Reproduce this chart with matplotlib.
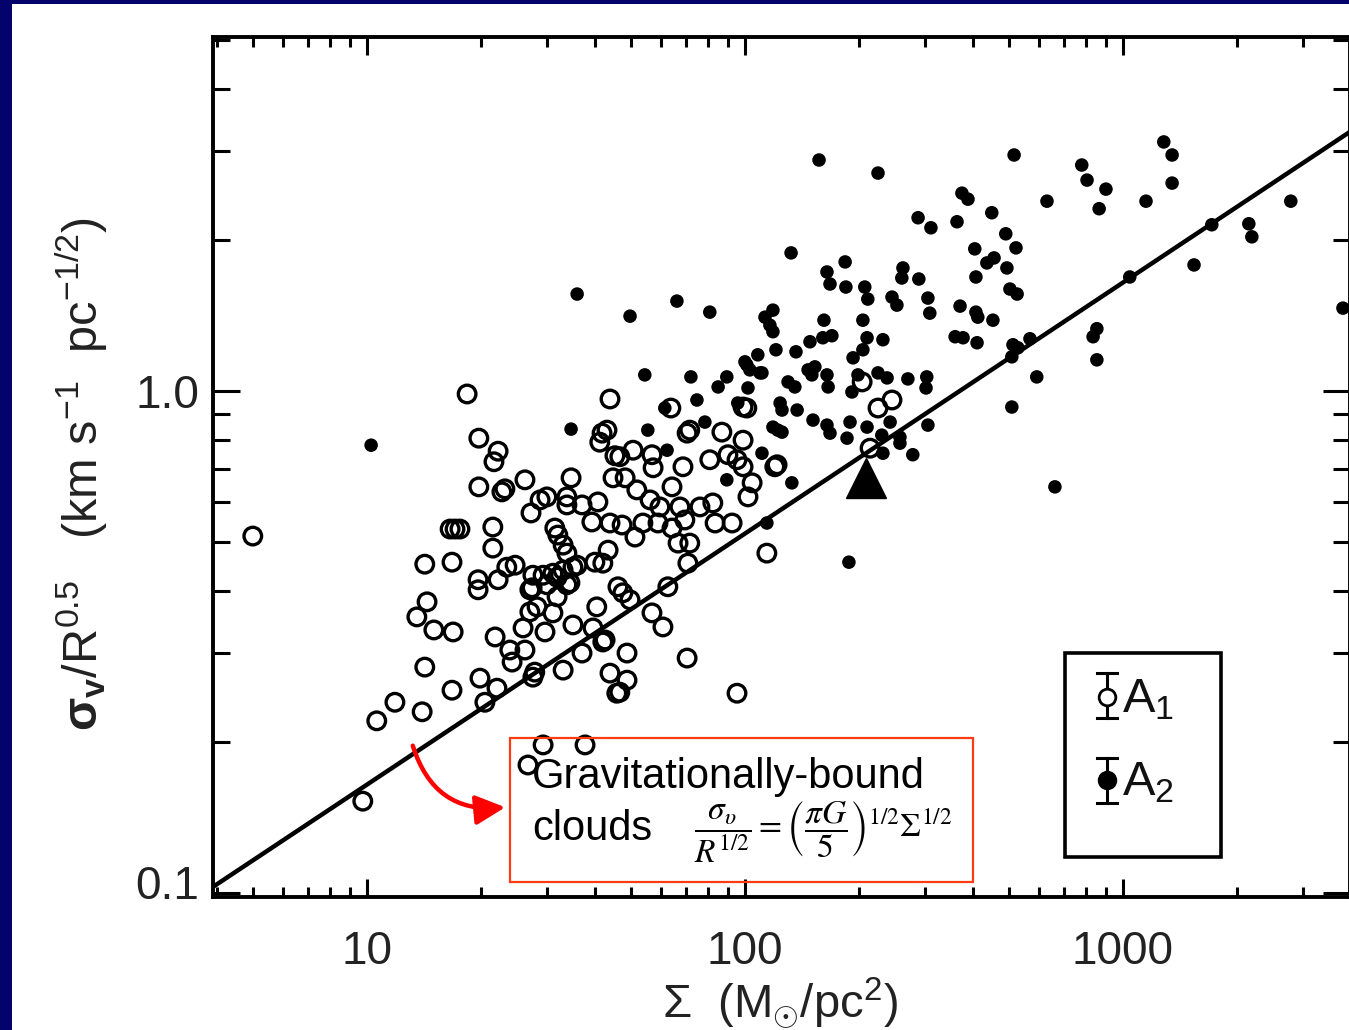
import numpy as np
import matplotlib.pyplot as plt
import matplotlib.ticker as mticker
import matplotlib.transforms as mtransforms
from matplotlib.patches import Rectangle, FancyArrowPatch

plt.rcParams['font.family'] = ['Liberation Sans', 'DejaVu Sans']
plt.rcParams['mathtext.fontset'] = 'custom'
plt.rcParams['mathtext.rm'] = 'Liberation Sans'
plt.rcParams['mathtext.it'] = 'Liberation Sans:italic'
plt.rcParams['mathtext.bf'] = 'Liberation Sans:bold'

# --- data (log10 values) ---
# A1 clouds (open circles): log10 Sigma [Msun/pc^2], log10 sigma_v/R^0.5
log_surf_a1 = [0.698, 0.989, 1.026, 1.074, 1.146, 1.153, 1.153, 1.225, 1.132, 1.159,
               1.177, 1.228, 1.225, 1.265, 1.296, 1.347, 1.336, 1.296, 1.357, 1.365,
               1.418, 1.220, 1.233, 1.246, 1.333, 1.333, 1.294, 1.294, 1.347, 1.370,
               1.392, 1.339, 1.299, 1.344, 1.312, 1.378, 1.384, 1.418, 1.413, 1.431,
               1.450, 1.471, 1.492, 1.503, 1.437, 1.439, 1.466, 1.492, 1.519, 1.537,
               1.545, 1.608, 1.598, 1.624, 1.569, 1.519, 1.439, 1.444, 1.643, 1.661,
               1.466, 1.577, 1.426, 1.434, 1.458, 1.476, 1.529, 1.529, 1.569, 1.595,
               1.611, 1.540, 1.497, 1.505, 1.519, 1.529, 1.545, 1.431, 1.476, 1.503,
               1.529, 1.556, 1.603, 1.624, 1.643, 1.622, 1.616, 1.635, 1.656, 1.651,
               1.643, 1.638, 1.804, 1.847, 1.854, 1.939, 1.995, 1.995, 1.704, 1.669,
               1.754, 1.757, 1.836, 1.907, 1.955, 1.979, 1.995, 2.019, 2.008, 2.079,
               1.683, 1.714, 1.807, 1.749, 1.775, 1.828, 1.881, 1.915, 1.675, 1.730,
               1.770, 1.807, 1.841, 1.921, 1.966, 1.709, 1.823, 1.854, 2.058, 1.849,
               1.796, 1.754, 1.783, 1.630, 1.688, 1.847, 1.688, 1.669, 1.979, 1.664,
               1.677, 1.696, 2.389, 2.352, 2.005, 2.331, 2.085, 2.310]
log_sv_a1 = [-0.289, -0.817, -0.657, -0.620, -0.639, -0.550, -0.345, -0.341, -0.450, -0.420,
             -0.476, -0.480, -0.596, -0.006, -0.094, -0.120, -0.141, -0.191, -0.201, -0.195,
             -0.177, -0.275, -0.275, -0.275, -0.271, -0.313, -0.376, -0.396, -0.376, -0.351,
             -0.347, -0.490, -0.572, -0.592, -0.620, -0.516, -0.540, -0.516, -0.472, -0.440,
             -0.430, -0.480, -0.442, -0.410, -0.392, -0.367, -0.367, -0.363, -0.357, -0.382,
             -0.466, -0.430, -0.472, -0.500, -0.522, -0.556, -0.570, -0.560, -0.562, -0.602,
             -0.705, -0.705, -0.745, -0.243, -0.217, -0.211, -0.211, -0.227, -0.227, -0.261,
             -0.221, -0.173, -0.273, -0.287, -0.307, -0.323, -0.351, -0.396, -0.386, -0.371,
             -0.386, -0.347, -0.341, -0.343, -0.016, -0.084, -0.102, -0.078, -0.129, -0.173,
             -0.263, -0.317, -0.034, -0.084, -0.078, -0.082, -0.032, -0.098, -0.118, -0.131,
             -0.127, -0.153, -0.151, -0.137, -0.127, -0.137, -0.151, -0.183, -0.211, -0.151,
             -0.173, -0.197, -0.191, -0.217, -0.231, -0.231, -0.231, -0.223, -0.267, -0.263,
             -0.263, -0.273, -0.257, -0.263, -0.263, -0.291, -0.303, -0.303, -0.323, -0.343,
             -0.390, -0.442, -0.470, -0.496, -0.522, -0.532, -0.576, -0.600, -0.602, -0.390,
             -0.402, -0.416, -0.018, -0.034, -0.034, -0.114, -0.147, 0.018]

# A2 clouds (filled circles)
log_surf_a2 = [1.011, 1.540, 1.556, 1.696, 1.820, 1.907, 1.735, 1.857, 1.952, 1.929,
               2.008, 2.005, 2.040, 2.114, 2.132, 1.873, 2.093, 2.138, 1.743, 1.894,
               2.074, 2.098, 1.794, 2.045, 1.952, 2.124, 2.058, 2.275, 2.196, 2.352,
               2.574, 2.590, 2.653, 2.458, 2.492, 2.561, 2.608, 2.640, 2.659, 2.611,
               2.122, 2.265, 2.217, 2.225, 2.267, 2.317, 2.325, 2.418, 2.415, 2.460,
               2.389, 2.402, 2.484, 2.489, 2.569, 2.611, 2.616, 2.656, 2.074, 2.053,
               2.066, 2.074, 2.209, 2.312, 2.556, 2.577, 2.614, 2.206, 2.230, 2.172,
               2.323, 2.365, 2.312, 2.286, 2.082, 2.135, 2.034, 2.000, 2.013, 2.045,
               2.167, 2.185, 2.177, 2.217, 2.220, 2.299, 2.283, 2.352, 2.376, 2.431,
               2.481, 2.479, 2.098, 2.180, 2.217, 2.225, 2.087, 2.278, 2.270, 2.323,
               2.384, 2.362, 2.410, 2.410, 2.484, 2.444, 2.365, 2.712, 2.891, 2.905,
               2.955, 2.799, 2.937, 3.061, 3.108, 3.130, 3.130, 2.690, 2.717, 2.693,
               2.701, 2.720, 3.188, 3.018, 2.709, 2.754, 2.706, 2.722, 2.931, 2.921,
               2.931, 2.772, 2.706, 2.820, 3.444, 3.333, 3.341, 3.235, 3.582, 1.981,
               1.788]
log_sv_a2 = [-0.108, -0.076, 0.193, 0.149, 0.179, 0.157, 0.032, 0.028, 0.028, 0.008,
             0.006, 0.052, 0.036, 0.018, 0.008, -0.018, -0.024, -0.038, -0.078, -0.062,
             -0.072, -0.082, -0.118, -0.124, -0.177, -0.183, -0.263, -0.341, 0.460, 0.434,
             0.394, 0.382, 0.355, 0.345, 0.325, 0.337, 0.283, 0.255, 0.265, 0.227,
             0.275, 0.257, 0.237, 0.213, 0.207, 0.207, 0.183, 0.245, 0.225, 0.223,
             0.187, 0.171, 0.185, 0.155, 0.169, 0.157, 0.147, 0.141, 0.161, 0.147,
             0.131, 0.118, 0.141, 0.141, 0.108, 0.106, 0.096, 0.106, 0.110, 0.098,
             0.106, 0.102, 0.082, 0.066, 0.082, 0.078, 0.072, 0.058, 0.042, 0.036,
             0.042, 0.048, 0.032, 0.032, 0.008, 0.032, -0.002, 0.036, 0.026, 0.024,
             0.028, 0.006, -0.038, -0.058, -0.068, -0.084, -0.078, -0.062, -0.094, -0.072,
             -0.062, -0.088, -0.092, -0.104, -0.068, -0.127, -0.124, 0.470, 0.450, 0.420,
             0.402, 0.378, 0.363, 0.378, 0.496, 0.470, 0.414, 0.313, 0.285, 0.245,
             0.203, 0.193, 0.251, 0.227, 0.092, 0.104, 0.068, 0.086, 0.124, 0.108,
             0.062, 0.028, -0.032, -0.191, 0.378, 0.333, 0.307, 0.331, 0.165, -0.024,
             -0.034]

# the big triangle
tri_surf = 209.0
tri_sv = 0.671

# virial line sigma/R^0.5 = (pi G / 5)^0.5 Sigma^0.5
G = 4.302e-3  # pc Msun^-1 (km/s)^2
xmin, xmax = 3.915, 3987.0
ymin, ymax = 0.0982, 5.07

W, H = 1349, 1030
fig = plt.figure(figsize=(W / 100, H / 100), dpi=100, facecolor='white')

navy = '#03036b'
fig.patches.append(Rectangle((0, 0), 12 / W, 1, transform=fig.transFigure,
                             facecolor=navy, edgecolor='none', zorder=0))
fig.patches.append(Rectangle((0, 1 - 4 / H), 1, 4 / H, transform=fig.transFigure,
                             facecolor=navy, edgecolor='none', zorder=0))

ax = fig.add_axes([213 / W, 1 - 897 / H, (1350 - 213) / W, (897 - 37) / H])
ax.set_xscale('log')
ax.set_yscale('log')
ax.set_xlim(xmin, xmax)
ax.set_ylim(ymin, ymax)

xs = 10 ** np.array(log_surf_a1)
ys = 10 ** np.array(log_sv_a1)
ax.scatter(xs, ys, s=160, facecolors='none', edgecolors='black', linewidths=2.4, zorder=3)
xs2 = 10 ** np.array(log_surf_a2)
ys2 = 10 ** np.array(log_sv_a2)
ax.scatter(xs2, ys2, s=95, facecolors='black', edgecolors='none', zorder=3)

xl = np.logspace(np.log10(xmin), np.log10(xmax), 50)
ax.plot(xl, np.sqrt(np.pi * G / 5) * np.sqrt(xl), color='black', lw=3.2, zorder=4)
ax.plot([tri_surf], [tri_sv], marker='^', ms=29, color='black', zorder=5)

for s in ax.spines.values():
    s.set_linewidth(2.8)
ax.xaxis.set_major_locator(mticker.FixedLocator([10, 100, 1000]))
ax.xaxis.set_major_formatter(mticker.FixedFormatter(['10', '100', '1000']))
ax.xaxis.set_minor_locator(mticker.LogLocator(subs=np.arange(2, 10)))
ax.xaxis.set_minor_formatter(mticker.NullFormatter())
ax.yaxis.set_major_locator(mticker.FixedLocator([0.1, 1.0]))
ax.yaxis.set_major_formatter(mticker.FixedFormatter(['0.1', '1.0']))
ax.yaxis.set_minor_locator(mticker.LogLocator(subs=np.arange(2, 10)))
ax.yaxis.set_minor_formatter(mticker.NullFormatter())

ax.tick_params(which='both', direction='in', top=True, right=True, width=2.2, colors='black',
               labelcolor='#222222', labelsize=33)
ax.tick_params(axis='x', which='major', length=13, pad=24)
ax.tick_params(axis='x', which='minor', length=7.2)
ax.tick_params(axis='y', which='major', length=19.5, pad=10)
ax.tick_params(axis='y', which='minor', length=12)

# 0.1 label sits a little above its tick
for lab in ax.get_yticklabels():
    if lab.get_text() == '0.1':
        lab.set_transform(lab.get_transform() + mtransforms.ScaledTranslation(0, 11 / 100, fig.dpi_scale_trans))

# overlay in pixel coordinates for annotations
ov = fig.add_axes([0, 0, 1, 1], facecolor='none')
ov.set_xlim(0, W)
ov.set_ylim(H, 0)
ov.axis('off')

fig.text(82 / W, 1 - 474 / H,
         r'$\mathbf{\sigma_v}$/R$^{0.5}$   (km s$^{-1}$  pc$^{-1/2}$)',
         rotation=90, ha='center', va='center', fontsize=35, color='#222222')
fig.text(780 / W, 1 - 1003 / H, r'$\Sigma$  (M$_{\odot}$/pc$^{2}$)',
         ha='center', va='center', fontsize=34, color='#222222')

# legend box
ov.add_patch(Rectangle((1065, 653), 156, 204, fill=False, edgecolor='black', lw=2.6))
for yc, y0, y1, filled, sub in [(697, 673, 718, False, '1'), (780, 758, 803, True, '2')]:
    ov.plot([1107, 1107], [y0, y1], color='black', lw=2.2)
    ov.plot([1097, 1117], [y0, y0], color='black', lw=2.2)
    ov.plot([1097, 1117], [y1, y1], color='black', lw=2.2)
    ov.plot([1107], [yc], marker='o', ms=12,
            mfc='black' if filled else 'white', mec='black', mew=2.0)
    ov.text(1122, yc + 15, r'A$_{%s}$' % sub, fontsize=35, va='baseline', ha='left', color='#111111')

# red annotation
ov.add_patch(Rectangle((510, 738), 463, 144, fill=False, edgecolor='#ff3b14', lw=1.6))
ov.text(532, 788, 'Gravitationally-bound', fontsize=30, va='baseline', ha='left', color='black')
ov.text(532, 840, 'clouds', fontsize=30, va='baseline', ha='left', color='black')
ov.text(694, 832,
        r'$\dfrac{\sigma_\upsilon}{R^{1/2}}=\left(\dfrac{\pi G}{5}\right)^{1/2}\Sigma^{1/2}$',
        fontsize=24, va='center', ha='left', color='black', math_fontfamily='stix')
ov.add_patch(FancyArrowPatch((412, 743), (508, 807), connectionstyle='arc3,rad=0.42',
                             arrowstyle='-|>,head_length=0.9,head_width=0.45',
                             mutation_scale=20, color='#ff0000', lw=3.2))

fig.savefig('out.png', dpi=100, facecolor='white')
